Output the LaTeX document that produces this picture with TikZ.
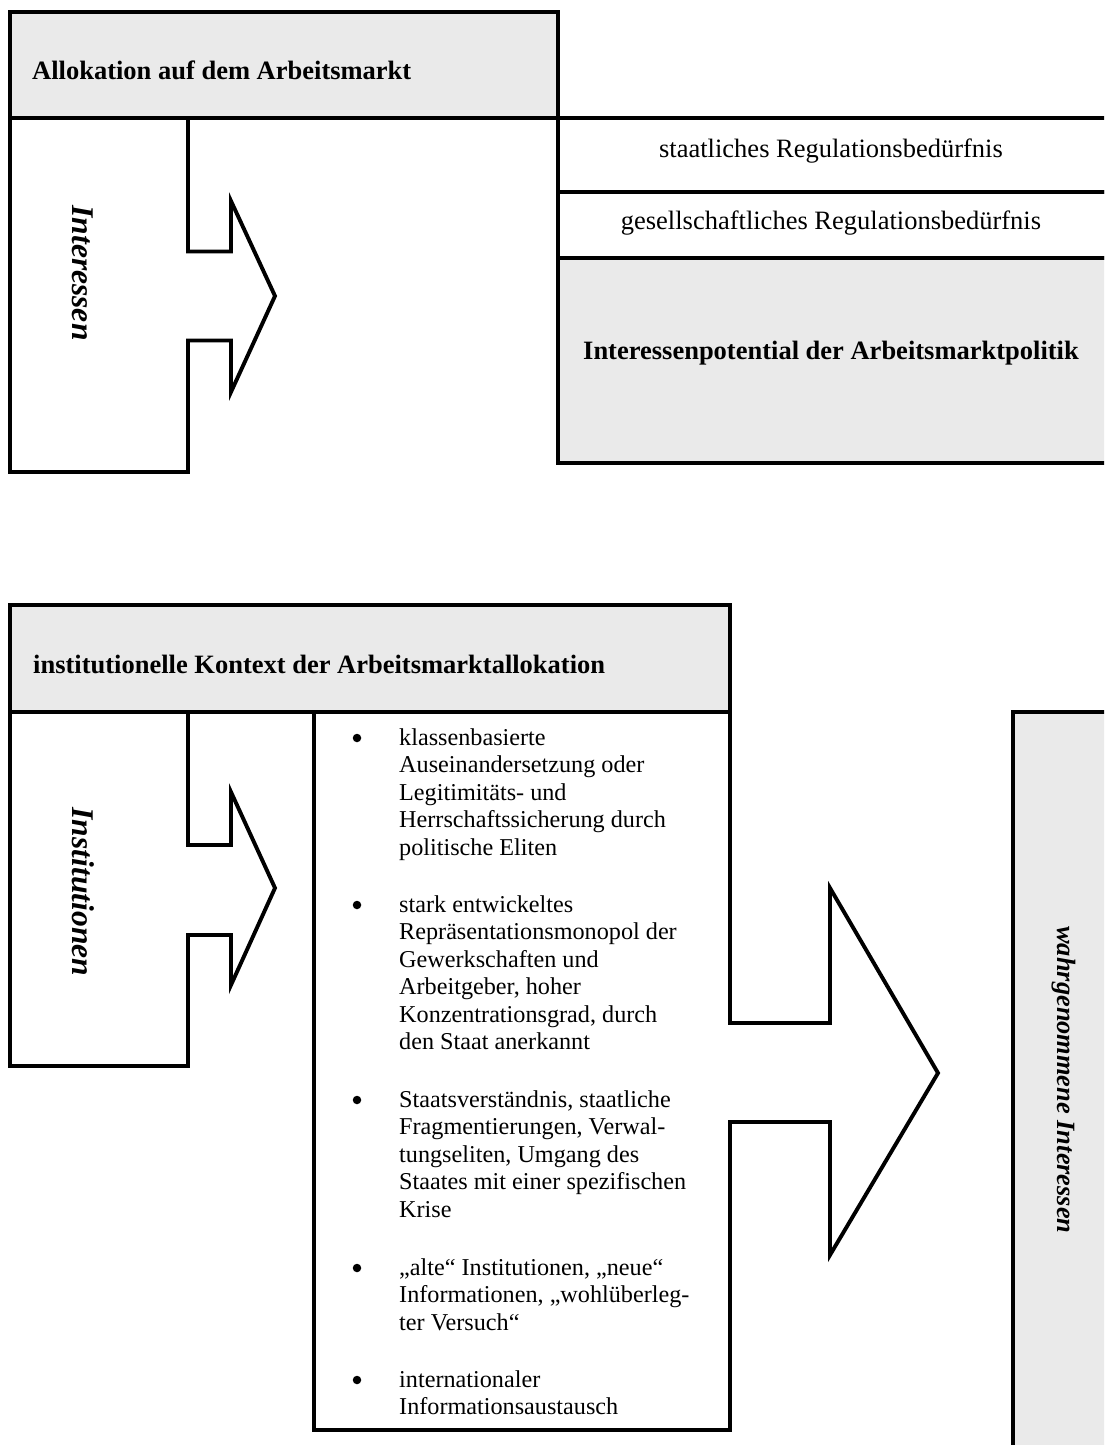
\documentclass[tikz,border=0pt]{standalone}
\usepackage{fontspec}
\setmainfont{Liberation Serif}
\definecolor{panelgrey}{RGB}{234,234,234}
\tikzset{
  frame/.style={draw=black, line width=3.9pt, line join=miter},
  greybox/.style={frame, fill=panelgrey},
  heading/.style={font=\fontsize{26.5}{30}\selectfont\bfseries, anchor=base west, inner sep=0pt},
  plaintext/.style={font=\fontsize{26.5}{30}\selectfont, anchor=base, inner sep=0pt},
  boldtext/.style={font=\fontsize{26.5}{30}\selectfont\bfseries, anchor=base, inner sep=0pt},
  itemtext/.style={font=\fontsize{24.2}{27.5}\selectfont, align=left, anchor=north west, inner sep=0pt},
  bulletmark/.style={circle, fill=black, inner sep=0pt, minimum size=8.5pt},
  sidelabel/.style={font=\fontsize{31.6}{36}\selectfont\bfseries\itshape, rotate=-90, anchor=base, inner sep=0pt}
}
\begin{document}
\begin{tikzpicture}[x=1pt,y=-1pt]
\useasboundingbox (0,0) rectangle (1104,1445);
\clip (0,0) rectangle (1104,1445);

% ---------- upper part: allocation on the labour market ----------
\path[greybox] (10,12) rectangle (558,118);
\path[frame] (558,118) rectangle (1112,192);
\path[frame] (558,192) rectangle (1112,258);
\path[greybox] (558,258) rectangle (1112,463);

% block arrow "Interessen"
\path[frame, fill=white] (188,118) -- (188,251.5) -- (231,251.5) -- (231,201) -- (275,296)
  -- (231,392) -- (231,340.5) -- (188,340.5) -- (188,472) -- (10,472) -- (10,118) -- cycle;

\node[heading] (alloc) at (32,79) {Allokation auf dem Arbeitsmarkt};
\node[plaintext] (staat) at (831,157) {staatliches Regulationsbedürfnis};
\node[plaintext] (gesell) at (831,229) {gesellschaftliches Regulationsbedürfnis};
\node[boldtext] (potential) at (831,359) {Interessenpotential der Arbeitsmarktpolitik};
\node[sidelabel] (interessen) at (72,273) {Interessen};

% ---------- lower part: institutional context ----------
\path[greybox] (10,605) rectangle (730,712);
\path[greybox] (1013,712) rectangle (1120,1460);

% block arrow "Institutionen"
\path[frame, fill=white] (188,712) -- (188,845) -- (231,845) -- (231,792) -- (275,888)
  -- (231,985) -- (231,935) -- (188,935) -- (188,1066) -- (10,1066) -- (10,712) -- cycle;

% list box opening into the large block arrow
\path[frame, fill=white] (730,712) -- (314,712) -- (314,1430) -- (730,1430) -- (730,1122)
  -- (830,1122) -- (830,1255) -- (938,1073) -- (830,888) -- (830,1023) -- (730,1023) -- cycle;
\draw[line width=3.9pt] (10,712) -- (730,712);

\node[heading] (kontext) at (33,673) {institutionelle Kontext der Arbeitsmarktallokation};
\node[sidelabel] (institutionen) at (72,892) {Institutionen};
\node[sidelabel, font=\fontsize{26.4}{30}\selectfont\bfseries\itshape] (wahr) at (1057.5,1080) {wahrgenommene Interessen};

% bullet list
\node[bulletmark] (b1) at (357,738) {};
\node[itemtext] (i1) at (399,725.75) {\strut klassenbasierte\\Auseinandersetzung oder\\Legitimitäts- und\\Herrschaftssicherung durch\\politische Eliten};
\node[bulletmark] (b2) at (357,905) {};
\node[itemtext] (i2) at (399,892.75) {\strut stark entwickeltes\\Repräsentationsmonopol der\\Gewerkschaften und\\Arbeitgeber, hoher\\Konzentrationsgrad, durch\\den Staat anerkannt};
\node[bulletmark] (b3) at (357,1100) {};
\node[itemtext] (i3) at (399,1087.75) {\strut Staatsverständnis, staatliche\\Fragmentierungen, Verwal-\\tungseliten, Umgang des\\Staates mit einer spezifischen\\Krise};
\node[bulletmark] (b4) at (357,1268) {};
\node[itemtext] (i4) at (399,1255.75) {\strut „alte“ Institutionen, „neue“\\Informationen, „wohlüberleg-\\ter Versuch“};
\node[bulletmark] (b5) at (357,1380) {};
\node[itemtext] (i5) at (399,1367.75) {\strut internationaler\\Informationsaustausch};
\end{tikzpicture}
\end{document}
